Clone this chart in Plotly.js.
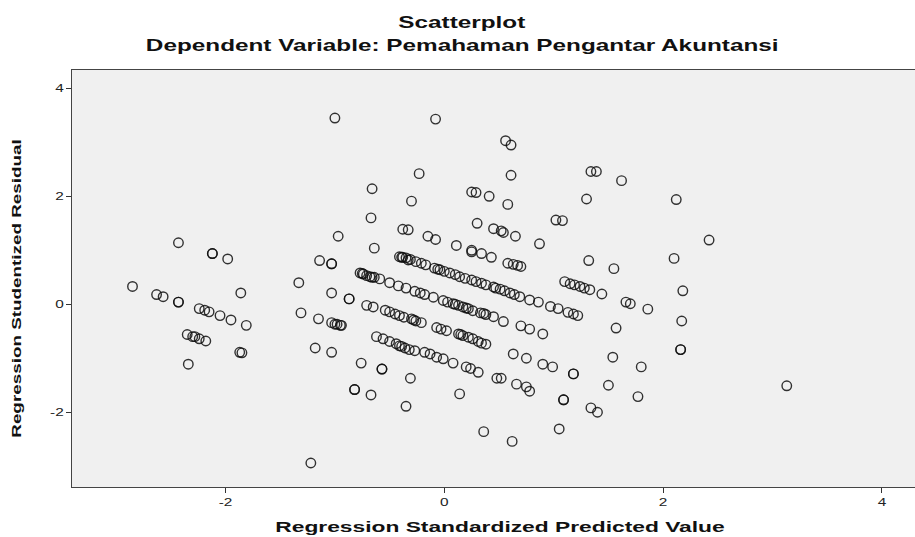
<!DOCTYPE html>
<html>
<head>
<meta charset="utf-8">
<script src="https://cdn.plot.ly/plotly-3.0.1.min.js"></script>
<style>html,body{margin:0;padding:0;background:#fff;overflow:hidden;}#chart{width:928px;height:537px;}</style>
</head>
<body>
<div id="chart"></div>
<script>
// Regression Standardized Predicted Value (x) and Regression Studentized Residual (y)
const predicted = [
  // left cluster
  -2.85,-2.63,-2.57,-2.43,-2.43,-2.24,-2.19,-2.15,-2.05,-1.95,-1.81,-1.86,
  -2.35,-2.30,-2.28,-2.24,-2.18,-1.87,-1.85,-2.34,-2.43,-2.12,-2.12,-1.98,
  // mid-left
  -1.00,-0.97,-1.14,-1.03,-1.03,-1.33,-1.03,-0.87,-0.87,-1.31,-1.15,
  -1.03,-1.00,-0.95,-1.18,-1.03,-1.22,-0.76,-0.82,-0.82,-0.67,-0.57,-0.57,
  -0.31,-0.35,0.14,
  // upper
  -0.08,0.56,0.61,-0.23,0.61,1.34,1.39,1.62,-0.66,-0.30,0.25,0.29,0.41,0.58,
  1.30,2.12,-0.67,-0.38,-0.33,-0.15,-0.08,-0.64,0.11,0.25,0.25,0.34,0.43,
  0.30,0.45,0.52,0.54,0.65,0.87,1.02,1.08,1.32,1.55,0.58,0.63,0.67,0.70,
  2.42,2.10,
  // band A
  -0.41,-0.38,-0.35,-0.31,-0.26,-0.21,-0.17,-0.09,-0.04,0.00,0.05,0.10,0.14,
  0.19,0.25,0.29,0.34,0.38,0.45,0.51,0.55,0.60,0.64,0.69,0.78,0.86,0.97,
  1.04,1.13,1.18,1.22,-0.39,-0.33,-0.06,0.47,
  // band B
  -0.77,-0.75,-0.74,-0.71,-0.68,-0.66,-0.64,-0.59,-0.50,-0.42,-0.35,-0.27,
  -0.22,-0.18,-0.10,-0.01,0.03,0.08,0.13,0.17,0.22,0.26,0.33,0.36,0.38,0.45,
  0.54,0.70,0.78,0.90,0.10,0.20,
  // band C
  -0.71,-0.65,-0.54,-0.50,-0.45,-0.41,-0.37,-0.30,-0.26,-0.21,-0.07,-0.03,
  0.02,0.13,0.17,0.22,0.26,0.31,0.34,0.38,0.63,0.75,0.90,0.99,1.18,1.18,
  -0.28,0.15,
  // band D
  -0.62,-0.56,-0.50,-0.44,-0.39,-0.36,-0.32,-0.27,-0.18,-0.13,-0.07,-0.01,
  0.08,0.20,0.24,0.31,0.48,0.52,0.66,0.75,0.78,-0.41,
  // lower-left extra
  -0.94,-0.98,
  // right side
  1.10,1.15,1.19,1.24,1.28,1.33,1.44,1.66,1.70,1.86,2.18,2.17,2.16,2.16,
  1.57,1.54,1.80,1.50,1.77,3.13,1.09,1.09,1.34,1.40,1.05,0.36,0.62
];
const residual = [
  // left cluster
  0.33,0.18,0.14,0.04,0.04,-0.08,-0.11,-0.14,-0.21,-0.29,-0.39,0.21,
  -0.56,-0.60,-0.60,-0.64,-0.68,-0.89,-0.90,-1.11,1.14,0.94,0.94,0.84,
  // mid-left
  3.45,1.26,0.81,0.75,0.75,0.40,0.21,0.10,0.10,-0.16,-0.27,
  -0.34,-0.37,-0.39,-0.81,-0.89,-2.94,-1.09,-1.58,-1.58,-1.68,-1.20,-1.20,
  -1.37,-1.89,-1.66,
  // upper
  3.43,3.03,2.95,2.42,2.39,2.46,2.46,2.29,2.14,1.91,2.08,2.07,2.00,1.85,
  1.95,1.94,1.60,1.39,1.38,1.26,1.20,1.04,1.09,1.00,0.97,0.94,0.87,
  1.50,1.40,1.36,1.33,1.26,1.12,1.56,1.55,0.81,0.66,0.76,0.74,0.72,0.70,
  1.19,0.85,
  // band A
  0.88,0.87,0.86,0.83,0.79,0.76,0.73,0.67,0.64,0.61,0.58,0.55,0.51,
  0.48,0.45,0.42,0.39,0.36,0.32,0.28,0.25,0.21,0.18,0.14,0.08,0.04,-0.04,
  -0.08,-0.15,-0.18,-0.21,0.87,0.82,0.65,0.30,
  // band B
  0.58,0.57,0.56,0.53,0.51,0.50,0.50,0.47,0.40,0.34,0.30,0.24,
  0.21,0.18,0.13,0.07,0.04,0.01,-0.02,-0.05,-0.08,-0.12,-0.16,-0.17,-0.19,-0.23,
  -0.32,-0.40,-0.46,-0.55,0.00,-0.07,
  // band C
  -0.02,-0.05,-0.11,-0.14,-0.18,-0.21,-0.24,-0.27,-0.31,-0.34,-0.43,-0.46,
  -0.49,-0.55,-0.58,-0.61,-0.64,-0.69,-0.72,-0.74,-0.92,-1.00,-1.11,-1.16,-1.29,-1.29,
  -0.29,-0.56,
  // band D
  -0.60,-0.64,-0.69,-0.73,-0.78,-0.81,-0.84,-0.86,-0.89,-0.92,-0.98,-1.01,
  -1.09,-1.16,-1.19,-1.26,-1.37,-1.37,-1.48,-1.53,-1.61,-0.77,
  // lower-left extra
  -0.39,-0.37,
  // right side
  0.42,0.38,0.36,0.33,0.30,0.27,0.19,0.04,0.01,-0.09,0.25,-0.31,-0.84,-0.84,
  -0.44,-0.98,-1.16,-1.50,-1.71,-1.51,-1.77,-1.77,-1.92,-2.00,-2.31,-2.36,-2.54
];
const xTickVals = [-2, 0, 2, 4];
const yTickVals = [-2, 0, 2, 4];
const chartTitle = 'Scatterplot';
const chartSubtitle = 'Dependent Variable: Pemahaman Pengantar Akuntansi';
const xTitle = 'Regression Standardized Predicted Value';
const yTitle = 'Regression Studentized Residual';

const font = 'Liberation Sans, Arial, sans-serif';
const W = 928, H = 537;

const trace = {
  type: 'scatter',
  mode: 'markers',
  x: predicted,
  y: residual,
  marker: {
    symbol: 'circle-open',
    size: 9.5,
    color: 'rgba(15,15,15,0.85)',
    line: {width: 1.4}
  },
  hoverinfo: 'x+y',
  showlegend: false
};

const layout = {
  width: W,
  height: H,
  margin: {l: 72, r: 0, t: 70, b: 50, pad: 0},
  paper_bgcolor: '#ffffff',
  plot_bgcolor: '#f0f0f0',
  font: {family: font, color: '#111'},
  title: {
    text: '<b>' + chartTitle + '</b>',
    font: {family: font, size: 16, color: '#111'},
    xref: 'container', x: 462 / W, xanchor: 'center',
    yref: 'container', y: 1 - 22 / H, yanchor: 'middle'
  },
  annotations: [{
    text: '<b>' + chartSubtitle + '</b>',
    font: {family: font, size: 16, color: '#111'},
    xref: 'paper', x: (462 - 72) / (W - 72), xanchor: 'center',
    yref: 'paper', y: (487 - 46) / 417, yanchor: 'middle',
    showarrow: false
  }],
  xaxis: {
    range: [-3.403, 4.421],
    tickvals: xTickVals,
    ticktext: xTickVals.map(String),
    ticks: 'outside', ticklen: 5, tickwidth: 1, tickcolor: '#333',
    tickfont: {family: font, size: 11, color: '#222'},
    showline: true, linecolor: '#444', linewidth: 1, mirror: true,
    showgrid: false, zeroline: false,
    title: {text: '<b>' + xTitle + '</b>', font: {family: font, size: 15, color: '#111'}, standoff: 14}
  },
  yaxis: {
    range: [-3.385, 4.34],
    tickvals: yTickVals,
    ticktext: yTickVals.map(String),
    ticks: 'outside', ticklen: 5, tickwidth: 1, tickcolor: '#333',
    tickfont: {family: font, size: 11, color: '#222'},
    showline: true, linecolor: '#444', linewidth: 1, mirror: true,
    showgrid: false, zeroline: false,
    title: {text: '<b>' + yTitle + '</b>', font: {family: font, size: 13, color: '#111'}, standoff: 29}
  }
};

// The reference typesetting is wide: stretch each text along its reading direction.
function stretchText(selector, s, anchor, shift) {
  document.querySelectorAll(selector).forEach(function (el) {
    const bb = el.getBBox();
    const cx = anchor === 'end' ? bb.x + bb.width : bb.x + bb.width / 2;
    const cy = bb.y + bb.height / 2;
    const prev = el.getAttribute('transform') || '';
    const pre = shift ? 'translate(' + shift[0] + ' ' + shift[1] + ') ' : '';
    el.setAttribute('transform', pre + prev + ' translate(' + cx + ' ' + cy + ') scale(' + s + ' 1) translate(' + (-cx) + ' ' + (-cy) + ')');
  });
}

Plotly.newPlot('chart', [trace], layout, {staticPlot: true, displayModeBar: false}).then(function () {
  stretchText('.gtitle', 1.52);
  stretchText('.annotation-text', 1.52);
  stretchText('.xtitle', 1.52);
  stretchText('.ytitle', 1.45, null, [0, 10]);
  stretchText('.xtick text', 1.4);
  stretchText('.ytick text', 1.4, 'end');
});
</script>
</body>
</html>
